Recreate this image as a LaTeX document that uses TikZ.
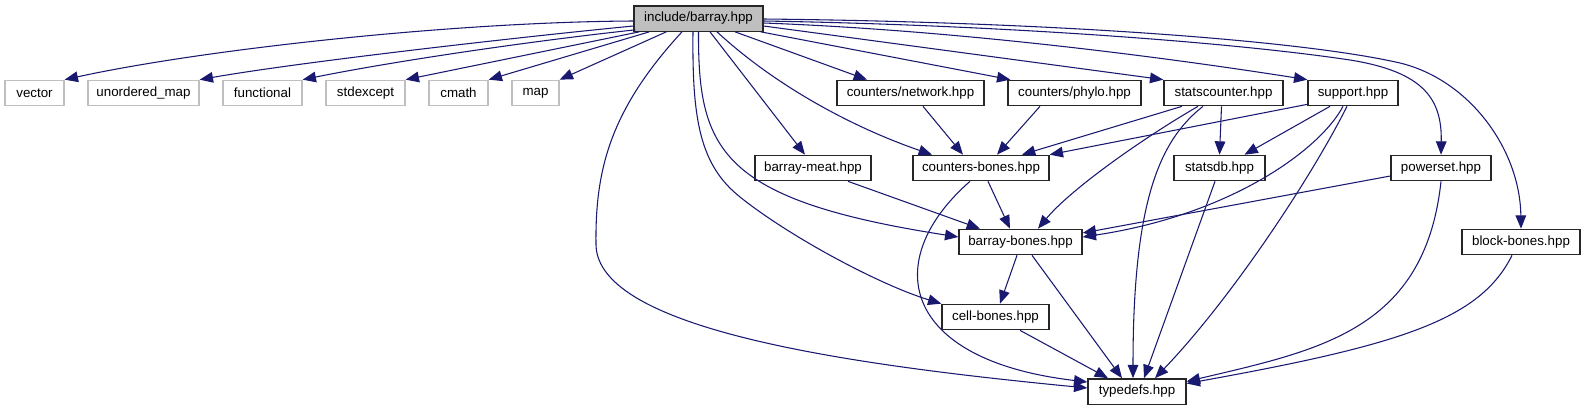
\documentclass[tikz,border=0pt]{standalone}
\usepackage{fontspec}
\setmainfont{Liberation Sans}
\usepackage{xcolor}
\usepackage{tikz}
\usetikzlibrary{arrows.meta,calc}
\definecolor{edgeblue}{HTML}{191970}
\definecolor{sysgray}{HTML}{BFBFBF}
\definecolor{rootfill}{HTML}{BFBFBF}

\begin{document}
\begin{tikzpicture}[x=0.75pt,y=-0.75pt,every node/.style={font=\fontsize{10}{12}\selectfont},
  filebox/.style={draw=black!85,line width=1pt,fill=white,minimum height=19pt,inner sep=0pt},
  rootbox/.style={filebox,fill=rootfill},
  sysbox/.style={filebox,draw=sysgray},
  dep/.style={edgeblue,line width=0.8pt,-{Triangle[length=10pt,width=8pt]}}]
  \useasboundingbox (0,0) rectangle (1585,411);
  % the header and what it includes
  \node[rootbox,minimum width=96.75pt] (main) at (698.5,18.5) {include/barray.hpp};
  \node[sysbox,minimum width=44.25pt] (vector) at (34.5,93) {vector};
  \node[sysbox,minimum width=83.25pt] (umap) at (143.5,93) {unordered\_map};
  \node[sysbox,minimum width=59.25pt] (functional) at (262.5,93) {functional};
  \node[sysbox,minimum width=59.25pt] (stdexcept) at (365.5,93) {stdexcept};
  \node[sysbox,minimum width=44.25pt] (cmath) at (458.5,93) {cmath};
  \node[sysbox,minimum width=35.25pt] (map) at (535.5,93) {map};
  \node[filebox,minimum width=110.25pt] (network) at (910.5,93) {counters/network.hpp};
  \node[filebox,minimum width=99.75pt] (phylo) at (1074.5,93) {counters/phylo.hpp};
  \node[filebox,minimum width=89.25pt] (stats) at (1223.5,93) {statscounter.hpp};
  \node[filebox,minimum width=67.5pt] (support) at (1353,93) {support.hpp};
  \node[filebox,minimum width=87pt] (meat) at (813,168) {barray-meat.hpp};
  \node[filebox,minimum width=102pt] (cbones) at (981,168) {counters-bones.hpp};
  \node[filebox,minimum width=68.25pt] (statsdb) at (1219.5,168) {statsdb.hpp};
  \node[filebox,minimum width=75pt] (powerset) at (1441,168) {powerset.hpp};
  \node[filebox,minimum width=92.25pt] (bbones) at (1020.5,242) {barray-bones.hpp};
  \node[filebox,minimum width=88.5pt] (block) at (1521,242) {block-bones.hpp};
  \node[filebox,minimum width=80.25pt] (cell) at (995.5,317) {cell-bones.hpp};
  \node[filebox,minimum width=73.5pt] (typedefs) at (1137,391.5) {typedefs.hpp};

  % system headers
  \draw[dep] ($(main.west)+(0,2.5)$) .. controls (450,22) and (200,50) .. (vector.north east);
  \draw[dep] ($(main.west)+(0,7.5)$) .. controls (520,37) and (300,62) .. (umap.north east);
  \draw[dep] ($(main.south west)+(2,-2)$) .. controls (540,40) and (400,60) .. (functional.north east);
  \draw[dep] ($(main.south west)+(6,0)$) -- (stdexcept.north east);
  \draw[dep] ($(main.south west)+(16,0)$) -- (cmath.north east);
  \draw[dep] ($(main.south west)+(33,0)$) -- (map.north east);

  % direct includes of the header
  \draw[dep] ($(main.south)+(-16.5,0)$) .. controls (610,110) and (595,170) .. (596,245)
    .. controls (598,330) and (850,365) .. ($(typedefs.west)+(0,-3.5)$);
  \draw[dep] ($(main.south)+(-5.5,0)$) .. controls (692,120) and (700,165) .. (740,197)
    .. controls (790,237) and (880,285) .. (cell.north west);
  \draw[dep] (main.south) .. controls (698,150) and (720,200) .. ($(bbones.west)+(0,-5)$);
  \draw[dep] ($(main.south)+(11.5,0)$) -- ($(meat.north)+(-8,0)$);
  \draw[dep] ($(main.south)+(18.5,0)$) .. controls (780,90) and (860,130) .. ($(cbones.north)+(-49,0)$);
  \draw[dep] ($(main.south)+(36.5,0)$) -- ($(network.north)+(-43.5,0)$);
  \draw[dep] ($(main.south east)+(-3,0)$) -- ($(phylo.north west)+(3,0)$);
  \draw[dep] ($(main.east)+(0,7.5)$) -- (stats.north west);
  \draw[dep] ($(main.east)+(0,4.5)$) .. controls (950,30) and (1150,55) .. (support.north west);
  \draw[dep] ($(main.east)+(0,2.5)$) .. controls (1000,25) and (1230,42) .. (1350,60)
    .. controls (1425,72) and (1442,100) .. (powerset.north);
  \draw[dep] ($(main.east)+(0,0.5)$) .. controls (1050,22) and (1300,40) .. (1400,63)
    .. controls (1470,80) and (1520,150) .. (block.north);

  % second level
  \draw[dep] ($(network.south)+(12.5,0)$) -- ($(cbones.north)+(-18,0)$);
  \draw[dep] ($(phylo.south)+(-34.5,0)$) -- ($(cbones.north)+(16,0)$);
  \draw[dep] ($(stats.south)+(-41.5,0)$) -- ($(cbones.north)+(41,0)$);
  \draw[dep] ($(stats.south)+(-25.5,0)$) .. controls (1140,140) and (1070,190) .. ($(bbones.north)+(17.5,0)$);
  \draw[dep] ($(stats.south)+(-2,0)$) -- (statsdb.north);
  \draw[dep] ($(stats.south)+(-20.5,0)$) .. controls (1160,140) and (1133,200) .. ($(typedefs.north)+(-4,0)$);
  \draw[dep] ($(support.south west)+(0,-2)$) -- (cbones.north east);
  \draw[dep] ($(support.south)+(-23,0)$) -- ($(statsdb.north)+(25,0)$);
  \draw[dep] ($(support.south)+(-10,0)$) .. controls (1320,150) and (1230,215) .. ($(bbones.east)+(0,-5)$);
  \draw[dep] ($(support.south)+(-6,0)$) .. controls (1310,180) and (1230,300) .. ($(typedefs.north)+(18,0)$);

  % lower levels
  \draw[dep] ($(meat.south)+(35,0)$) -- ($(bbones.north)+(-40.5,0)$);
  \draw[dep] ($(cbones.south)+(7,0)$) -- ($(bbones.north)+(-10.5,0)$);
  \draw[dep] ($(cbones.south)+(-11,0)$) .. controls (880,260) and (900,360) .. ($(typedefs.west)+(0,-9.5)$);
  \draw[dep] ($(statsdb.south)+(-4.5,0)$) -- ($(typedefs.north)+(7,0)$);
  \draw[dep] ($(powerset.west)+(0,8)$) -- ($(bbones.east)+(0,-9)$);
  \draw[dep] (powerset.south) .. controls (1425,330) and (1320,350) .. ($(typedefs.east)+(0,-10)$);
  \draw[dep] ($(block.south)+(-9,0)$) .. controls (1480,320) and (1400,345) .. ($(typedefs.east)+(0,-8)$);
  \draw[dep] ($(bbones.south)+(-3.5,0)$) -- ($(cell.north)+(4.5,0)$);
  \draw[dep] ($(bbones.south)+(11.5,0)$) -- ($(typedefs.north)+(-15,0)$);
  \draw[dep] ($(cell.south)+(24.5,0)$) -- ($(typedefs.north)+(-29,0)$);
\end{tikzpicture}
\end{document}
